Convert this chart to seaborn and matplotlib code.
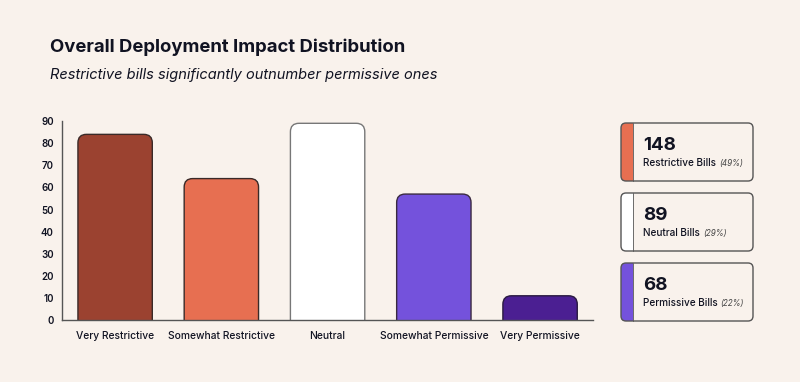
import pandas as pd
import matplotlib.pyplot as plt
import seaborn as sns
from matplotlib.patches import FancyBboxPatch, Rectangle

# chart data
categories = ['Very Restrictive', 'Somewhat Restrictive', 'Neutral', 'Somewhat Permissive', 'Very Permissive']
counts = [84, 64, 89, 57, 11]
bar_colors = ['#9B4230', '#E76F51', '#FFFFFF', '#7452DC', '#4B1F92']
edge_colors = ['#3A2A28', '#3A2A28', '#777777', '#3A2A40', '#2A1A40']

card_labels = ['Restrictive Bills', 'Neutral Bills', 'Permissive Bills']
card_groups = [[0, 1], [2], [3, 4]]
card_colors = ['#E76F51', '#FFFFFF', '#7452DC']

bg = '#F9F2EC'
ink = '#111322'

df = pd.DataFrame({'Category': categories, 'Count': counts})

sns.set_style('white')
plt.rcParams['font.family'] = ['Inter', 'DejaVu Sans']

fig = plt.figure(figsize=(8, 3.82), dpi=100, facecolor=bg)
ax = fig.add_axes([0.0775, 0.162, 0.664, 0.521])
ax.set_facecolor(bg)

sns.barplot(data=df, x='Category', y='Count', hue='Category', palette=bar_colors,
            legend=False, width=0.7, ax=ax)

# swap the plain bars for ones with rounded tops
for i, p in enumerate(list(ax.patches)):
    x, w, h = p.get_x(), p.get_width(), p.get_height()
    r = 0.08
    asp = 48
    fb = FancyBboxPatch((x, -10), w, h + 10,
                        boxstyle=f'round,pad=0,rounding_size={r}',
                        mutation_aspect=asp,
                        facecolor=bar_colors[i], edgecolor=edge_colors[i],
                        linewidth=1.0, zorder=2)
    p.remove()
    ax.add_patch(fb)

ax.set_xlim(-0.5, 4.5)
ax.set_ylim(0, 90)
ax.set_yticks(range(0, 91, 10))
ax.set_xlabel('')
ax.set_ylabel('')
ax.tick_params(axis='y', length=0, labelsize=7, pad=6, labelcolor=ink)
ax.tick_params(axis='x', length=0, labelsize=7.4, pad=8, labelcolor=ink)
for lab in ax.get_yticklabels():
    lab.set_fontweight('semibold')
for lab in ax.get_xticklabels():
    lab.set_fontweight('medium')
for s in ['top', 'right']:
    ax.spines[s].set_visible(False)
for s in ['left', 'bottom']:
    ax.spines[s].set_color('#555555')
    ax.spines[s].set_linewidth(1.0)

fig.text(50 / 800, 1 - 47.5 / 382, 'Overall Deployment Impact Distribution',
         fontsize=13.3, fontweight='bold', color=ink, va='center', ha='left')
fig.text(50 / 800, 1 - 74.5 / 382, 'Restrictive bills significantly outnumber permissive ones',
         fontsize=10.5, style='italic', color=ink, va='center', ha='left')

# summary cards on the right, laid out in pixel units
cax = fig.add_axes([0, 0, 1, 1], facecolor='none')
cax.set_xlim(0, 800)
cax.set_ylim(382, 0)
cax.axis('off')

total = sum(counts)
card_tops = [123, 193, 263]
card_h = 58
cx0, cw = 621, 132
for lbl, grp, col, top in zip(card_labels, card_groups, card_colors, card_tops):
    n = sum(counts[j] for j in grp)
    pct = round(100 * n / total)
    card = FancyBboxPatch((cx0, top), cw, card_h,
                          boxstyle='round,pad=0,rounding_size=5',
                          facecolor=bg, edgecolor='none', zorder=1)
    cax.add_patch(card)
    strip = Rectangle((cx0, top), 12, card_h, facecolor=col, edgecolor='none', zorder=2)
    cax.add_patch(strip)
    strip.set_clip_path(card)
    cax.add_patch(FancyBboxPatch((cx0, top), cw, card_h,
                                 boxstyle='round,pad=0,rounding_size=5',
                                 facecolor='none', edgecolor='#555555', linewidth=1.0, zorder=3))
    cax.plot([cx0 + 12, cx0 + 12], [top, top + card_h], color='#555555', lw=0.6, zorder=3)
    cax.text(cx0 + 22, top + 22, str(n), fontsize=13.5, fontweight='bold', color=ink,
             va='center', ha='left', zorder=4)
    t = cax.text(cx0 + 22, top + 40, lbl, fontsize=7.2, fontweight='medium', color=ink,
                 va='center', ha='left', zorder=4)
    fig.canvas.draw()
    bb = t.get_window_extent()
    inv = cax.transData.inverted()
    xr = inv.transform((bb.x1, bb.y0))[0]
    cax.text(xr + 3, top + 40.5, f'({pct}%)', fontsize=5.8, style='italic', color='#444444',
             va='center', ha='left', zorder=4)

fig.savefig('out.png', dpi=100, facecolor=bg)
